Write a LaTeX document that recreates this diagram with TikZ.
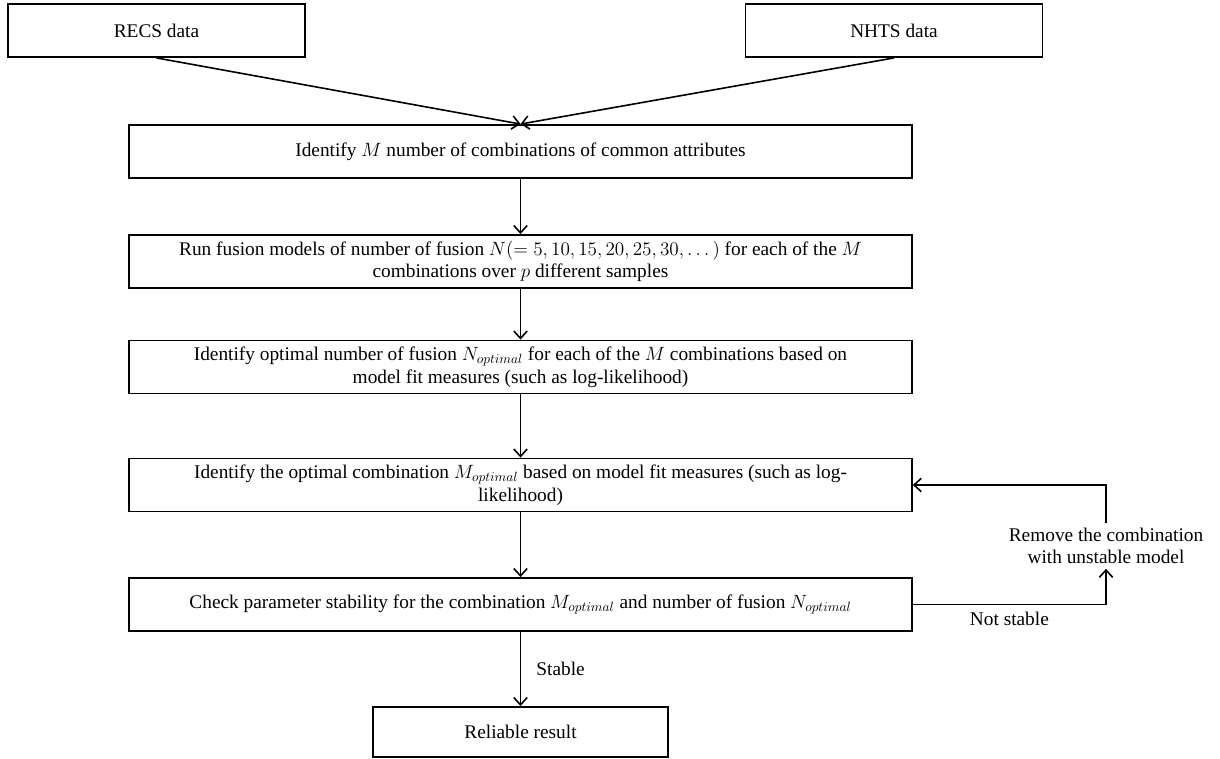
\documentclass[tikz,border=0pt]{standalone}
\usepackage{fontspec}
\setmainfont{Liberation Serif}
\usepackage{amsmath}
\usetikzlibrary{arrows.meta,positioning}

\begin{document}
\begin{tikzpicture}[
  x=0.75pt, y=-0.75pt,
  box/.style={rectangle, draw, line width=1.4pt,
              minimum width=587pt, minimum height=39.75pt,
              font=\fontsize{14.5}{17}\selectfont, align=center, inner sep=1pt},
  srcbox/.style={box, minimum width=222.75pt},
  arr/.style={-{Straight Barb[length=5.5pt,width=10pt,line width=1.2pt]}, line width=1.2pt},
  lbl/.style={font=\fontsize{14.5}{17}\selectfont, align=center}
]
  \useasboundingbox (0,0) rectangle (1220,759);

  \node[srcbox] (recs) at (156.5,30.5) {RECS data};
  \node[srcbox] (nhts) at (894,30.5) {NHTS data};

  \node[box] (comb) at (520.5,151.5)
    {Identify $M$ number of combinations of common attributes};
  \node[box] (runf) at (520.5,261.5)
    {Run fusion models of number of fusion $N(=5, 10, 15, 20, 25, 30, \dots)$ for each of the $M$\\
     combinations over $p$ different samples};
  \node[box] (nopt) at (520.5,367)
    {Identify optimal number of fusion $N_{optimal}$ for each of the $M$ combinations based on\\
     model fit measures (such as log-likelihood)};
  \node[box] (mopt) at (520.5,485)
    {Identify the optimal combination $M_{optimal}$ based on model fit measures (such as log-\\
     likelihood)};
  \node[box] (chk) at (520.5,604.5)
    {Check parameter stability for the combination $M_{optimal}$ and number of fusion $N_{optimal}$};
  \node[srcbox, minimum width=221.25pt, minimum height=37.5pt] (res) at (520.5,732)
    {Reliable result};

  \node[lbl] (rm) at (1106,546)
    {Remove the combination\\with unstable model};

  \draw[arr] (recs.south) -- (comb.north);
  \draw[arr] (nhts.south) -- (comb.north);
  \draw[arr] (comb) -- (runf);
  \draw[arr] (runf) -- (nopt);
  \draw[arr] (nopt) -- (mopt);
  \draw[arr] (mopt) -- (chk);
  \draw[arr] (chk) -- (res)
    node[lbl, midway, right=8pt] {Stable};
  \draw[arr] (chk.east) -| (rm.south)
    node[lbl, pos=0.25, below=2pt] {Not stable};
  \draw[arr] (rm.north) |- (mopt.east);
\end{tikzpicture}
\end{document}
